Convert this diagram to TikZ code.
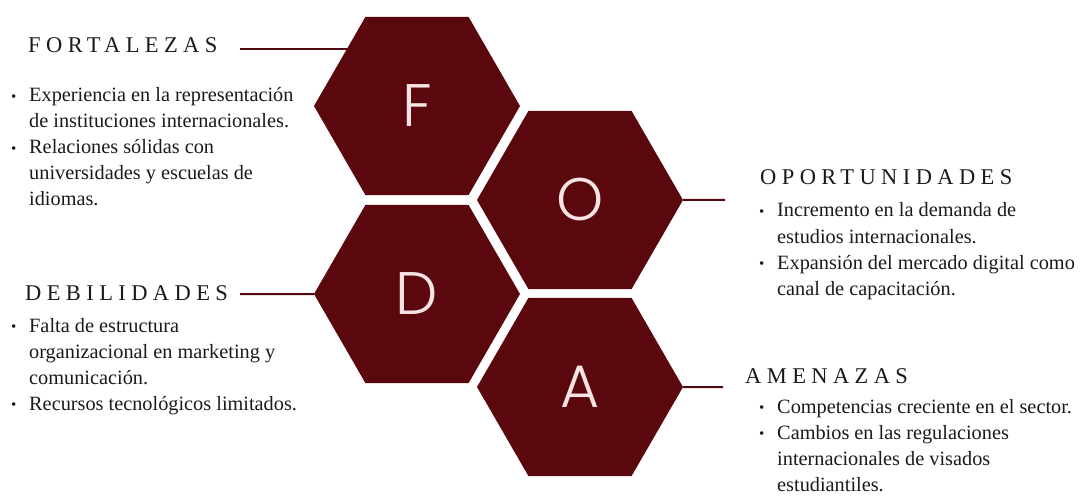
\documentclass[tikz,border=0pt]{standalone}
\usepackage{fontspec}
\setmainfont{Liberation Serif}
\newfontfamily\titlefont{Liberation Serif}[LetterSpace=24]
\newfontfamily\hexfont{Poppins Light}
\usetikzlibrary{positioning,shapes.geometric}
\definecolor{fodared}{HTML}{5A070D}
\definecolor{fodaline}{HTML}{4E0A0E}
\definecolor{fodaletter}{HTML}{F6E3E3}
\definecolor{fodatext}{HTML}{1A1A1A}
\pgfdeclarelayer{back}
\pgfsetlayers{back,main}
% bullet list kept in a vtop so that the node's base is the first baseline
\newcommand{\blist}[1]{\vtop{\hsize=340pt\parindent=0pt\parfillskip=0pt plus 1fil #1}}
\newcommand{\bitem}[1]{\par\hangindent=18pt\hangafter=1\noindent
  \makebox[18pt][l]{\raisebox{0.5pt}{\fontsize{15}{15}\selectfont\textbullet}}#1\par}

\begin{document}
\begin{tikzpicture}[x=1pt, y=-1pt,
  hexa/.style={regular polygon, regular polygon sides=6, minimum size=206pt,
               inner sep=0pt, outer sep=0pt, fill=fodared, text=fodaletter,
               font=\hexfont\fontsize{60}{60}\selectfont},
  ttl/.style={anchor=base west, inner sep=0pt, text=fodatext,
              font=\titlefont\fontsize{22.5}{22.5}\selectfont},
  lst/.style={anchor=base west, inner sep=0pt, text=fodatext,
              font=\fontsize{20.3}{26}\selectfont},
  link/.style={draw=fodaline, line width=2pt},
]
\useasboundingbox (0,0) rectangle (1081,497);

% ---- Hexagons ----
\node[hexa] (F) at (417,106) {F};
\node[hexa] (O) at (580,200) {O};
\node[hexa] (D) at (417,294) {D};
\node[hexa] (A) at (580,387) {A};

% ---- Left side ----
\node[ttl] (fort) at (28,53) {FORTALEZAS};
\node[lst] (fortlist) at (11,102) {\blist{%
  \bitem{Experiencia en la representación\newline
     de instituciones internacionales.}
  \bitem{Relaciones sólidas con\newline
     universidades y escuelas de\newline
     idiomas.}}};

\node[ttl] (deb) at (25,300) {DEBILIDADES};
\node[lst] (deblist) at (11,332) {\blist{%
  \bitem{Falta de estructura\newline
     organizacional en marketing y\newline
     comunicación.}
  \bitem{Recursos tecnológicos limitados.}}};

% ---- Right side ----
\node[ttl] (opo) at (760,185) {OPORTUNIDADES};
\node[lst] (opolist) at (759,217) {\blist{%
  \bitem{Incremento en la demanda de\newline
     estudios internacionales.}
  \bitem{Expansión del mercado digital como\newline
     canal de capacitación.}}};

\node[ttl] (ame) at (745,383) {AMENAZAS};
\node[lst] (amelist) at (759,413) {\blist{%
  \bitem{Competencias creciente en el sector.}
  \bitem{Cambios en las regulaciones\newline
     internacionales de visados\newline
     estudiantiles.}}};

% ---- Connectors ----
\coordinate (fend) at (240,49);
\coordinate (dend) at (240,294);
\coordinate (oend) at (725,200);
\coordinate (aend) at (723,387);
\begin{pgfonlayer}{back}
  \draw[link] (fend) -- (fend -| F.center);
\end{pgfonlayer}
\draw[link] (dend) -- (D.west);
\draw[link] (O.east) -- (oend);
\draw[link] (A.east) -- (aend);

\end{tikzpicture}
\end{document}
